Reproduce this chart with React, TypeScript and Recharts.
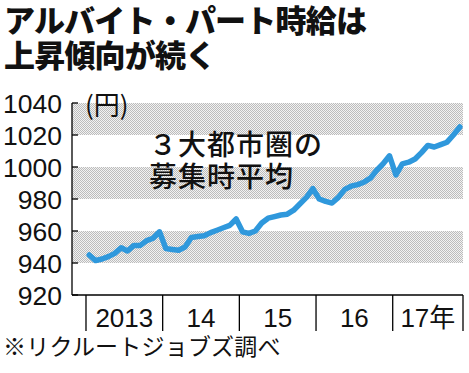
import React from 'react';
import { LineChart, Line, XAxis, YAxis, ReferenceArea } from 'recharts';

// Monthly wage (yen), Jan 2013 – Nov 2017
const months: string[] = [
  '2013-01','2013-02','2013-03','2013-04','2013-05','2013-06','2013-07','2013-08','2013-09','2013-10','2013-11','2013-12',
  '2014-01','2014-02','2014-03','2014-04','2014-05','2014-06','2014-07','2014-08','2014-09','2014-10','2014-11','2014-12',
  '2015-01','2015-02','2015-03','2015-04','2015-05','2015-06','2015-07','2015-08','2015-09','2015-10','2015-11','2015-12',
  '2016-01','2016-02','2016-03','2016-04','2016-05','2016-06','2016-07','2016-08','2016-09','2016-10','2016-11','2016-12',
  '2017-01','2017-02','2017-03','2017-04','2017-05','2017-06','2017-07','2017-08','2017-09','2017-10','2017-11',
];
const wages: number[] = [
  945, 941.5, 942.5, 944, 946, 949.5, 947.5, 951, 951, 954, 955.5, 959.5,
  949, 948.5, 948, 950, 956, 956.5, 957, 959, 960.5, 962, 963.5, 967.5,
  959.5, 958.5, 960, 965, 968, 969, 970, 970.5, 973, 977, 981, 986.5,
  980, 978.5, 977.5, 981, 986, 988, 989, 990.5, 993, 998, 1002, 1007,
  995, 1002, 1003, 1005, 1009, 1013.5, 1012.5, 1014, 1015.5, 1020, 1025,
];
const yearLabels: string[] = ['2013', '14', '15', '16', '17年'];
const yTicks: number[] = [920, 940, 960, 980, 1000, 1020, 1040];
const bands: [number, number][] = [[1020, 1040], [980, 1000], [940, 960]];

const data = wages.map((w, i) => ({ t: i, month: months[i], wage: w }));

// year spans in index units
const years = yearLabels.map((label, k) => {
  const start = k * 12 - 0.5;
  const end = Math.min(k * 12 + 11, wages.length - 1) + 0.5;
  return { label, start, end, center: (start + end) / 2 };
});
const separators = [...years.map((y) => y.start), years[years.length - 1].end];
const labelMap = new Map<number, string>(years.map((y) => [y.center, y.label]));
const xTicks = [...separators, ...years.map((y) => y.center)].sort((a, b) => a - b);
const sepSet = new Set(separators);

const digitFont = '"Liberation Sans", Arial, "Noto Sans CJK JP", sans-serif';
const cjkFont = '"Noto Sans CJK JP", sans-serif';

const YTick = (props: any) => {
  const { x, y, payload } = props;
  return (
    <g>
      <line x1={x} x2={x + 6} y1={y} y2={y} stroke="#000" strokeWidth={1.3} />
      <text x={62} y={y + 10} textAnchor="end" fontSize={26.5} fontFamily={digitFont} fill="#111">
        {payload.value}
      </text>
    </g>
  );
};

const XTick = (props: any) => {
  const { x, y, payload } = props;
  const v = payload.value;
  if (sepSet.has(v)) {
    return <line x1={x} x2={x} y1={y} y2={y + 36} stroke="#000" strokeWidth={1.3} />;
  }
  return (
    <text x={x} y={y + 32} textAnchor="middle" fontSize={26} fontFamily={digitFont} fill="#111">
      {labelMap.get(v)}
    </text>
  );
};

export default function App() {
  return (
    <div style={{ position: 'absolute', left: 0, top: 0, width: 469, height: 373, background: '#fff', overflow: 'hidden' }}>
      <LineChart width={469} height={373} data={data} margin={{ top: 103, right: 6, bottom: 38, left: 0 }}>
        <defs>
          <pattern id="stip" width="2" height="2" patternUnits="userSpaceOnUse">
            <rect width="2" height="2" fill="#f2f2f2" />
            <rect x="0" y="0" width="1" height="1" fill="#bcbcbc" />
            <rect x="1" y="1" width="1" height="1" fill="#bcbcbc" />
          </pattern>
        </defs>
        {bands.map(([a, b]) => (
          <ReferenceArea key={a} y1={a} y2={b} fill="url(#stip)" fillOpacity={1} stroke="none" ifOverflow="visible" />
        ))}
        <XAxis
          type="number"
          dataKey="t"
          domain={[-2.69, 58.5]}
          allowDataOverflow
          ticks={xTicks}
          interval={0}
          tickSize={0}
          tickMargin={0}
          tickLine={false}
          tick={XTick}
          axisLine={{ stroke: '#000', strokeWidth: 1.3 }}
          height={40}
        />
        <YAxis
          domain={[920, 1040]}
          allowDataOverflow
          ticks={yTicks}
          interval={0}
          tickSize={0}
          tickMargin={0}
          tickLine={false}
          tick={YTick}
          axisLine={{ stroke: '#000', strokeWidth: 1.3 }}
          width={72}
        />
        <Line
          type="linear"
          dataKey="wage"
          stroke="#2f98dc"
          strokeWidth={5.5}
          strokeLinejoin="round"
          strokeLinecap="round"
          dot={false}
          isAnimationActive={false}
        />
      </LineChart>
      <div style={{ position: 'absolute', left: 4, top: 1, fontFamily: cjkFont, fontWeight: 900, fontSize: 31, lineHeight: '35px', letterSpacing: -0.8, color: '#111', whiteSpace: 'nowrap' }}>
        アルバイト・パート時給は<br />上昇傾向が続く
      </div>
      <div style={{ position: 'absolute', left: 85, top: 88.5, fontFamily: cjkFont, fontSize: 26, lineHeight: '30px', color: '#111', whiteSpace: 'nowrap' }}>
        (円)
      </div>
      <div style={{ position: 'absolute', left: 149, top: 127, fontFamily: cjkFont, fontWeight: 500, fontSize: 28, lineHeight: '32px', letterSpacing: 1, color: '#111', whiteSpace: 'nowrap' }}>
        ３大都市圏の<br />募集時平均
      </div>
      <div style={{ position: 'absolute', left: 3, top: 332, fontFamily: cjkFont, fontSize: 23, lineHeight: '26px', letterSpacing: 0.2, color: '#111', whiteSpace: 'nowrap' }}>
        ※リクルートジョブズ調べ
      </div>
    </div>
  );
}
